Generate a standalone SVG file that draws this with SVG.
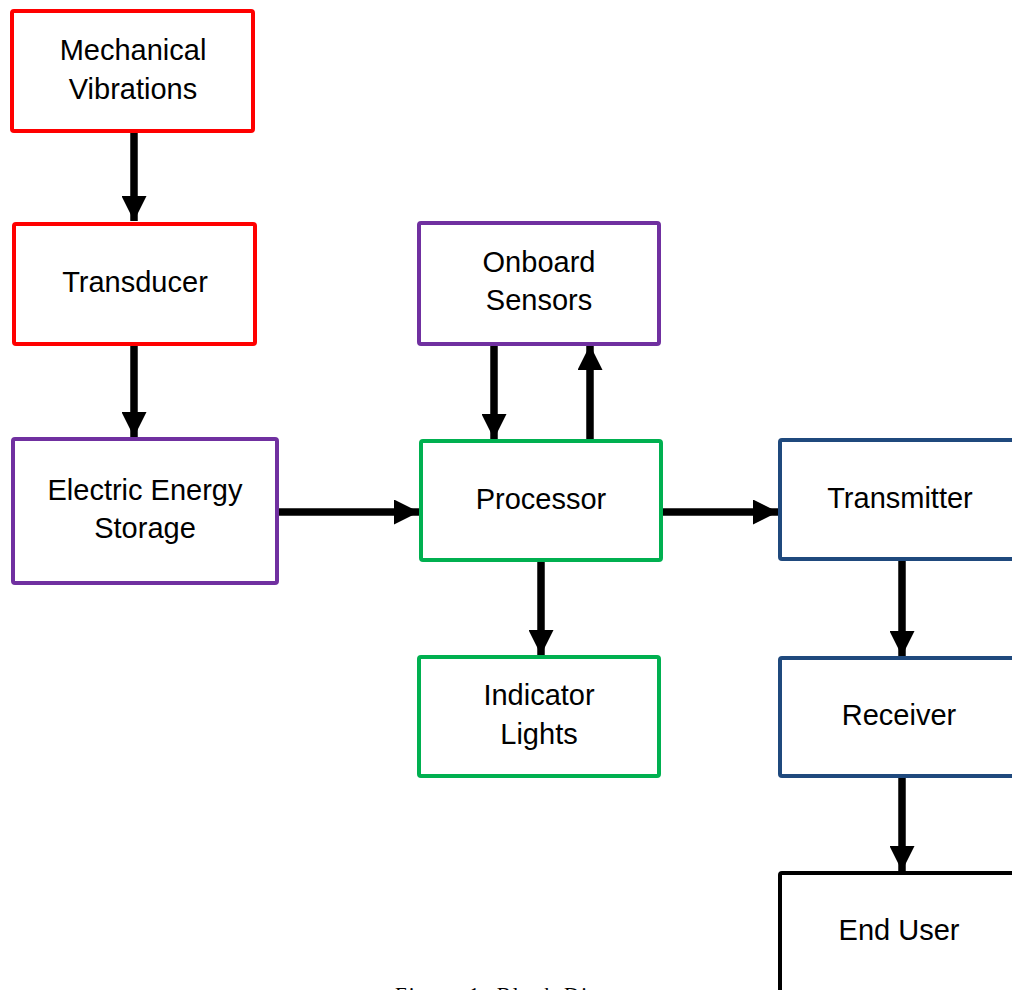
<svg xmlns="http://www.w3.org/2000/svg" width="1012" height="990" viewBox="0 0 1012 990">
<style>
.box{fill:#fff;stroke-width:4}
.red{stroke:#FF0000}.pur{stroke:#7030A0}.grn{stroke:#00B050}.blu{stroke:#1F497D}.blk{stroke:#000}
.lbl{font-family:"Liberation Sans",Arial,sans-serif;font-size:29px;fill:#000;text-anchor:middle}
.conn{stroke:#000;stroke-width:7.5;fill:none;marker-end:url(#ah)}
.cap{font-family:"Liberation Serif","Times New Roman",serif;font-size:21px;fill:#000;letter-spacing:2px}
</style>
<defs>
<marker id="ah" markerUnits="userSpaceOnUse" viewBox="0 0 25 25" refX="25" refY="12.5" markerWidth="25" markerHeight="25" orient="auto">
<path d="M0,0 L25,12.5 L0,25 Z" fill="#000"/>
</marker>
</defs>
<g id="connectors">
<line class="conn" x1="134" y1="132" x2="134" y2="221"/>
<line class="conn" x1="134" y1="345" x2="134" y2="437"/>
<line class="conn" x1="278" y1="512" x2="419" y2="512"/>
<line class="conn" x1="494" y1="345" x2="494" y2="439"/>
<line class="conn" x1="590" y1="439" x2="590" y2="345"/>
<line class="conn" x1="541" y1="561" x2="541" y2="655"/>
<line class="conn" x1="662" y1="512" x2="778" y2="512"/>
<line class="conn" x1="902" y1="560" x2="902" y2="656"/>
<line class="conn" x1="902" y1="777" x2="902" y2="871"/>
</g>
<g id="mechanical-vibrations">
<rect class="box red" x="12" y="11" width="241" height="120" rx="2"/>
<text class="lbl" x="133" y="60">Mechanical</text>
<text class="lbl" x="133" y="99">Vibrations</text>
</g>
<g id="transducer">
<rect class="box red" x="14" y="224" width="241" height="120" rx="2"/>
<text class="lbl" x="135" y="292">Transducer</text>
</g>
<g id="electric-energy-storage">
<rect class="box pur" x="13" y="439" width="264" height="144" rx="2"/>
<text class="lbl" x="145" y="500">Electric Energy</text>
<text class="lbl" x="145" y="538">Storage</text>
</g>
<g id="onboard-sensors">
<rect class="box pur" x="419" y="223" width="240" height="121" rx="2"/>
<text class="lbl" x="539" y="272">Onboard</text>
<text class="lbl" x="539" y="310">Sensors</text>
</g>
<g id="processor">
<rect class="box grn" x="421" y="441" width="240" height="119" rx="2"/>
<text class="lbl" x="541" y="509">Processor</text>
</g>
<g id="indicator-lights">
<rect class="box grn" x="419" y="657" width="240" height="119" rx="2"/>
<text class="lbl" x="539" y="705">Indicator</text>
<text class="lbl" x="539" y="744">Lights</text>
</g>
<g id="transmitter">
<rect class="box blu" x="780" y="440" width="250" height="119" rx="2"/>
<text class="lbl" x="900" y="508">Transmitter</text>
</g>
<g id="receiver">
<rect class="box blu" x="780" y="658" width="250" height="118" rx="2"/>
<text class="lbl" x="899" y="725">Receiver</text>
</g>
<g id="end-user">
<rect class="box blk" x="780" y="873" width="250" height="130" rx="2"/>
<text class="lbl" x="899" y="940">End User</text>
</g>
<text class="cap" x="395" y="1002">Figure 1: Block Diagram</text>
</svg>
